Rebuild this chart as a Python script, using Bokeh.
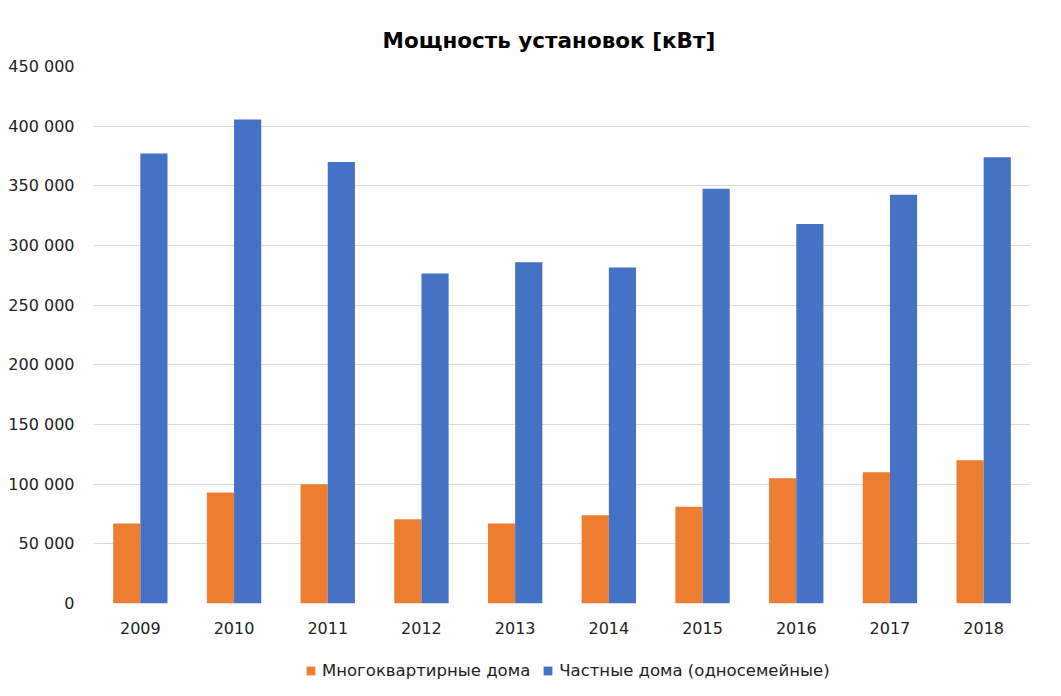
from bokeh.plotting import figure
from bokeh.layouts import column
from bokeh.models import ColumnDataSource, FactorRange, Legend, LegendItem, CustomJSTickFormatter, FixedTicker
from bokeh.transform import dodge
from bokeh.embed import file_html
from bokeh.resources import INLINE

years = ["2009", "2010", "2011", "2012", "2013", "2014", "2015", "2016", "2017", "2018"]
multi = [67000, 93000, 100000, 70500, 67000, 74000, 81000, 105000, 110000, 120000]
private = [377000, 405500, 370000, 276500, 286000, 281500, 347500, 318000, 342500, 374000]
y_ticks = [0, 50000, 100000, 150000, 200000, 250000, 300000, 350000, 400000, 450000]
series_names = ["Многоквартирные дома", "Частные дома (односемейные)"]
colors = ["#ED7D31", "#4472C4"]

src = ColumnDataSource(dict(year=years, multi=multi, private=private))

p = figure(x_range=FactorRange(*years), y_range=(0, 450000),
           width=1055, height=650, output_backend="svg", toolbar_location=None,
           min_border_left=93, min_border_right=25, min_border_top=66, min_border_bottom=47)
p.x_range.range_padding = 0

p.title.text = "Мощность установок [кВт]"
p.title.align = "left"
p.title.offset = 289
p.title.text_font = "DejaVu Sans"
p.title.text_font_size = "21.5px"
p.title.text_font_style = "bold"
p.title.text_color = "#000000"
p.title.standoff = 27

r1 = p.vbar(x=dodge("year", -0.145, range=p.x_range), top="multi", width=0.29, source=src,
            fill_color=colors[0], line_color=None)
r2 = p.vbar(x=dodge("year", 0.145, range=p.x_range), top="private", width=0.29, source=src,
            fill_color=colors[1], line_color=None)

p.yaxis.ticker = FixedTicker(ticks=y_ticks)
p.yaxis.formatter = CustomJSTickFormatter(code="return tick.toString().replace(/\\B(?=(\\d{3})+(?!\\d))/g, ' ');")
for ax in (p.xaxis[0], p.yaxis[0]):
    ax.axis_line_color = None
    ax.major_tick_line_color = None
    ax.minor_tick_line_color = None
    ax.major_tick_out = 0
    ax.major_tick_in = 0
    ax.major_label_text_font = "DejaVu Sans"
    ax.major_label_text_font_size = "16px"
    ax.major_label_text_color = "#222222"
p.yaxis.major_label_standoff = 19
p.xaxis.major_label_standoff = 18

p.xgrid.grid_line_color = None
p.ygrid.grid_line_color = "#d9d9d9"
p.ygrid.grid_line_width = 1
p.outline_line_color = None

# legend strip below the chart (its swatches come from off-range placeholder bars)
lg = figure(width=1055, height=46, x_range=(0, 1), y_range=(0, 1),
            output_backend="svg", toolbar_location=None,
            x_axis_location=None, y_axis_location=None, min_border=0)
lg.grid.grid_line_color = None
lg.outline_line_color = None
e = ColumnDataSource(dict(x=[5.0], top=[0.0]))
l1 = lg.vbar(x="x", top="top", width=0.1, source=e, fill_color=colors[0], line_color=None)
l2 = lg.vbar(x="x", top="top", width=0.1, source=e, fill_color=colors[1], line_color=None)

legend = Legend(items=[LegendItem(label=series_names[0], renderers=[l1]),
                       LegendItem(label=series_names[1], renderers=[l2])],
                orientation="horizontal", location=(212, 16),
                label_text_font="DejaVu Sans", label_text_font_size="16.5px",
                label_text_color="#222222", glyph_width=11, glyph_height=11,
                label_height=12, spacing=12, label_standoff=6, border_line_color=None,
                background_fill_alpha=0, padding=2, margin=0)
lg.add_layout(legend, "center")

layout = column(p, lg, spacing=0)
open("out.html", "w").write(file_html(layout, INLINE))
